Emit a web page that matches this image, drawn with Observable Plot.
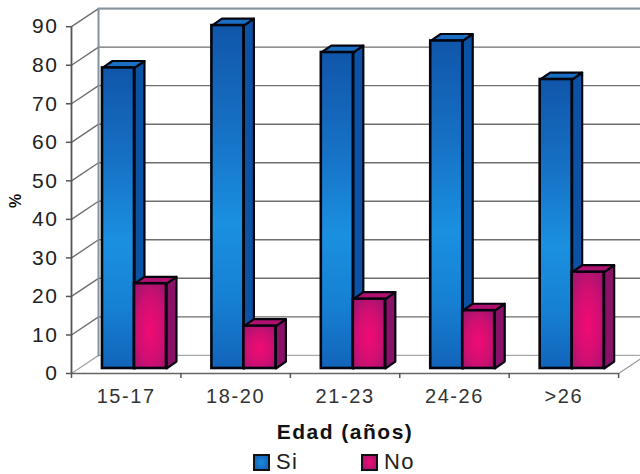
<!DOCTYPE html>
<html><head><meta charset="utf-8">
<script src="https://cdn.jsdelivr.net/npm/d3@7"></script>
<script src="https://cdn.jsdelivr.net/npm/@observablehq/plot@0.6"></script>
<style>
html,body{margin:0;padding:0;background:#fff;width:640px;height:474px;overflow:hidden}
#wrap{position:relative;width:640px;height:474px;font-family:"Liberation Sans",Arial,sans-serif;color:#222}
#wrap svg{display:block}
#wrap svg text{letter-spacing:1.6px}
.t{position:absolute;left:257px;top:420px;width:176px;text-align:center;font-weight:bold;font-size:21px;line-height:24px;white-space:nowrap;color:#111;letter-spacing:1.5px}
.s{position:absolute;top:454px;width:13px;height:13px;border:2px solid #111}
.l{position:absolute;top:450px;font-size:22px;line-height:24px;letter-spacing:1.4px;color:#222}
</style></head><body><div id="wrap"></div>
<script>
const categories = ["15-17","18-20","21-23","24-26",">26"];
const si = [78,89,82,85,75];
const no = [22,11,18,15,25];
const yTicks = [0,10,20,30,40,50,60,70,80,90];
const xMax = 5.2, wallDx = 0.247, wallDy = 4.7;
const barW = 0.2925, depthDx = 0.0914, depthDy = 1.8, base = 1.3, startX = 0.283;

const bars = (vals, k) => vals.map((v,i)=>({x1:i+startX+k*barW,x2:i+startX+(k+1)*barW,y1:base,y2:base+v}));
const siBars = bars(si,0), noBars = bars(no,1);
const sidePoly = bs => bs.flatMap((b,i)=>[[b.x2,b.y1],[b.x2+depthDx,b.y1+depthDy],[b.x2+depthDx,b.y2+depthDy],[b.x2,b.y2]].map(([x,y])=>({x,y,id:i})));
const topPoly = bs => bs.flatMap((b,i)=>[[b.x1,b.y2],[b.x1+depthDx,b.y2+depthDy],[b.x2+depthDx,b.y2+depthDy],[b.x2,b.y2]].map(([x,y])=>({x,y,id:i})));
const closed = {x:"x",y:"y",z:"id",curve:t=>{return {lineStart(){this.f=1},lineEnd(){t.closePath();},point(x,y){this.f?(t.moveTo(x,y),this.f=0):t.lineTo(x,y)},areaStart(){},areaEnd(){}}}};
const grid = yTicks.slice(1).flatMap(v=>[{x:0,y:v,id:v},{x:wallDx,y:v+wallDy,id:v},{x:xMax,y:v+wallDy,id:v}]);
const floor = [{x:0,y:0,id:0},{x:wallDx,y:wallDy,id:0},{x:xMax,y:wallDy,id:0}];

const barMarks = (bs,front,side,top) => [
  Plot.line(sidePoly(bs),{...closed,fill:side,stroke:"#05050f",strokeWidth:2.2,strokeLinejoin:"round"}),
  Plot.line(topPoly(bs),{...closed,fill:top,stroke:"#05050f",strokeWidth:2.2,strokeLinejoin:"round"}),
  Plot.rect(bs,{x1:"x1",x2:"x2",y1:"y1",y2:"y2",fill:front,stroke:"#05050f",strokeWidth:2.6})
];

const chart = Plot.plot({
  width:640,height:420,marginLeft:71,marginRight:0,marginTop:0,marginBottom:47,
  x:{type:"linear",domain:[0,xMax]},
  y:{type:"linear",domain:[0,96.8]},
  style:{background:"transparent",fontFamily:'"Liberation Sans",Arial,sans-serif'},
  marks:[
    ()=>{const s=d3.create("svg:defs");
      const g=s.append("linearGradient").attr("id","blueG").attr("x1",0).attr("y1",0).attr("x2",0).attr("y2",1);
      [[0,"#1056aa"],[.3,"#1670c4"],[.58,"#1b90e0"],[.8,"#1680d2"],[1,"#1264ba"]].forEach(([o,c])=>g.append("stop").attr("offset",o).attr("stop-color",c));
      const r=s.append("radialGradient").attr("id","pinkG").attr("cx",.5).attr("cy",.55).attr("r",.65);
      [[0,"#f20b72"],[.6,"#cf0f72"],[1,"#a3146f"]].forEach(([o,c])=>r.append("stop").attr("offset",o).attr("stop-color",c));
      return s.node();},
    Plot.line(grid,{x:"x",y:"y",z:"id",stroke:"#6f6f6f",strokeWidth:1.4}),
    Plot.line(floor,{x:"x",y:"y",z:"id",stroke:"#a5aaae",strokeWidth:1.4}),
    Plot.line([{x:5,y:0},{x:xMax,y:wallDy*.8}],{x:"x",y:"y",stroke:"#999",strokeWidth:1.2}),
    Plot.line([{x:wallDx,y:wallDy},{x:wallDx,y:90+wallDy},{x:xMax,y:90+wallDy}],{x:"x",y:"y",stroke:"#85939e",strokeWidth:2}),
    ...barMarks(siBars,"url(#blueG)","#0c52a4","#1a6fc4"),
    ...barMarks(noBars,"url(#pinkG)","#8a1266","#b01070"),
    Plot.ruleX([0],{y1:0,y2:90,stroke:"#555",strokeWidth:1.8}),
    Plot.ruleY([0],{x1:0,x2:5,stroke:"#666",strokeWidth:1.6}),
    Plot.axisY({ticks:yTicks,tickSize:5,tickPadding:8,label:null,fontSize:21,stroke:"#555",strokeWidth:1.5,color:"#222"}),
    Plot.axisX({ticks:[0,1,2,3,4,5],tickSize:5,tickFormat:()=>"",label:null,stroke:"#555",strokeWidth:1.5}),
    Plot.axisX({ticks:categories.map((c,i)=>i+.5),tickSize:0,tickPadding:15,tickFormat:(d)=>categories[Math.floor(d)],label:null,fontSize:20,color:"#333"}),
    Plot.text(["%"],{dx:-56,rotate:-90,fontSize:16,fontWeight:"bold",fill:"#111",x:0,y:45,text:d=>d})
  ]
});
const wrap=document.getElementById("wrap");
wrap.appendChild(chart);
wrap.insertAdjacentHTML("beforeend",`
<div class="t">Edad (años)</div>
<div class="s" style="left:253px;background:radial-gradient(#1a8bdc,#125fb5)"></div><div class="l" style="left:276px">Si</div>
<div class="s" style="left:361px;background:radial-gradient(#f20b72,#a3146f)"></div><div class="l" style="left:384px">No</div>`);
</script></body></html>
